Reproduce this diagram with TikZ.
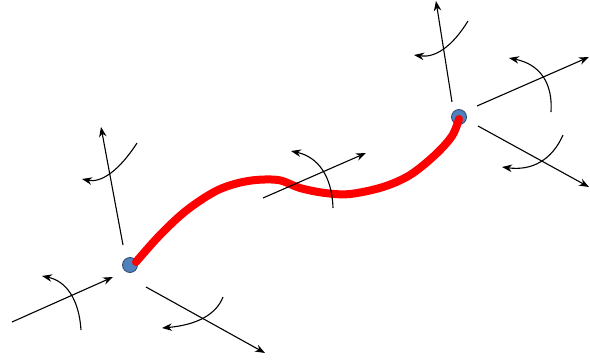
\documentclass[tikz,border=0pt]{standalone}
\usetikzlibrary{arrows.meta}
\definecolor{jointblue}{RGB}{79,129,189}
\definecolor{jointedge}{RGB}{50,70,110}
\begin{document}
\begin{tikzpicture}[x=1pt,y=-1pt,
  axis/.style={line width=1.1pt,-{Stealth[length=10pt,width=7.5pt]}},
  rot/.style={line width=1.1pt,-{Stealth[length=10pt,width=7.5pt]}},
  joint/.style={circle,fill=jointblue,draw=jointedge,line width=0.8pt,minimum size=15pt,inner sep=0pt},
  link/.style={red,line width=8pt,line cap=round,line join=round}]
\useasboundingbox (0,0) rectangle (590,362);
\node[joint] (A) at (130,265) {};
\node[joint] (B) at (459,117) {};
% link curve
\draw[link] plot[smooth,tension=0.55] coordinates {(136,262) (160,235) (187,210) (218,190) (248,181) (278,180) (300,188) (325,193) (350,194) (383,187) (410,175) (435,155) (452,136) (459,119)};
% left joint axes
\coordinate (a1s) at (123,245); \coordinate (a1e) at (101,127);
\coordinate (a2s) at (12,322);  \coordinate (a2e) at (113,277);
\coordinate (a3s) at (146,287); \coordinate (a3e) at (265,353);
\draw[axis] (a1s) -- (a1e);
\draw[axis] (a2s) -- (a2e);
\draw[axis] (a3s) -- (a3e);
\draw[rot] (137,143) .. controls (119,171) and (101,183) .. (82,179);
\draw[rot] (81,330) .. controls (79,299) and (66,281) .. (42,276);
\draw[rot] (223,297) .. controls (216,315) and (196,325) .. (162,328);
% middle
\coordinate (m1s) at (263,198); \coordinate (m1e) at (366,153);
\draw[axis] (m1s) -- (m1e);
\draw[rot] (333,208) .. controls (332,176) and (318,157) .. (291,151);
% right joint axes
\coordinate (b1s) at (452,102); \coordinate (b1e) at (436,1);
\coordinate (b2s) at (477,106); \coordinate (b2e) at (589,57);
\coordinate (b3s) at (478,126); \coordinate (b3e) at (589,187);
\draw[axis] (b1s) -- (b1e);
\draw[axis] (b2s) -- (b2e);
\draw[axis] (b3s) -- (b3e);
\draw[rot] (468,21) .. controls (452,47) and (435,58) .. (414,55);
\draw[rot] (551,112) .. controls (553,82) and (539,64) .. (509,58);
\draw[rot] (563,135) .. controls (552,160) and (532,171) .. (502,167);
\end{tikzpicture}
\end{document}
